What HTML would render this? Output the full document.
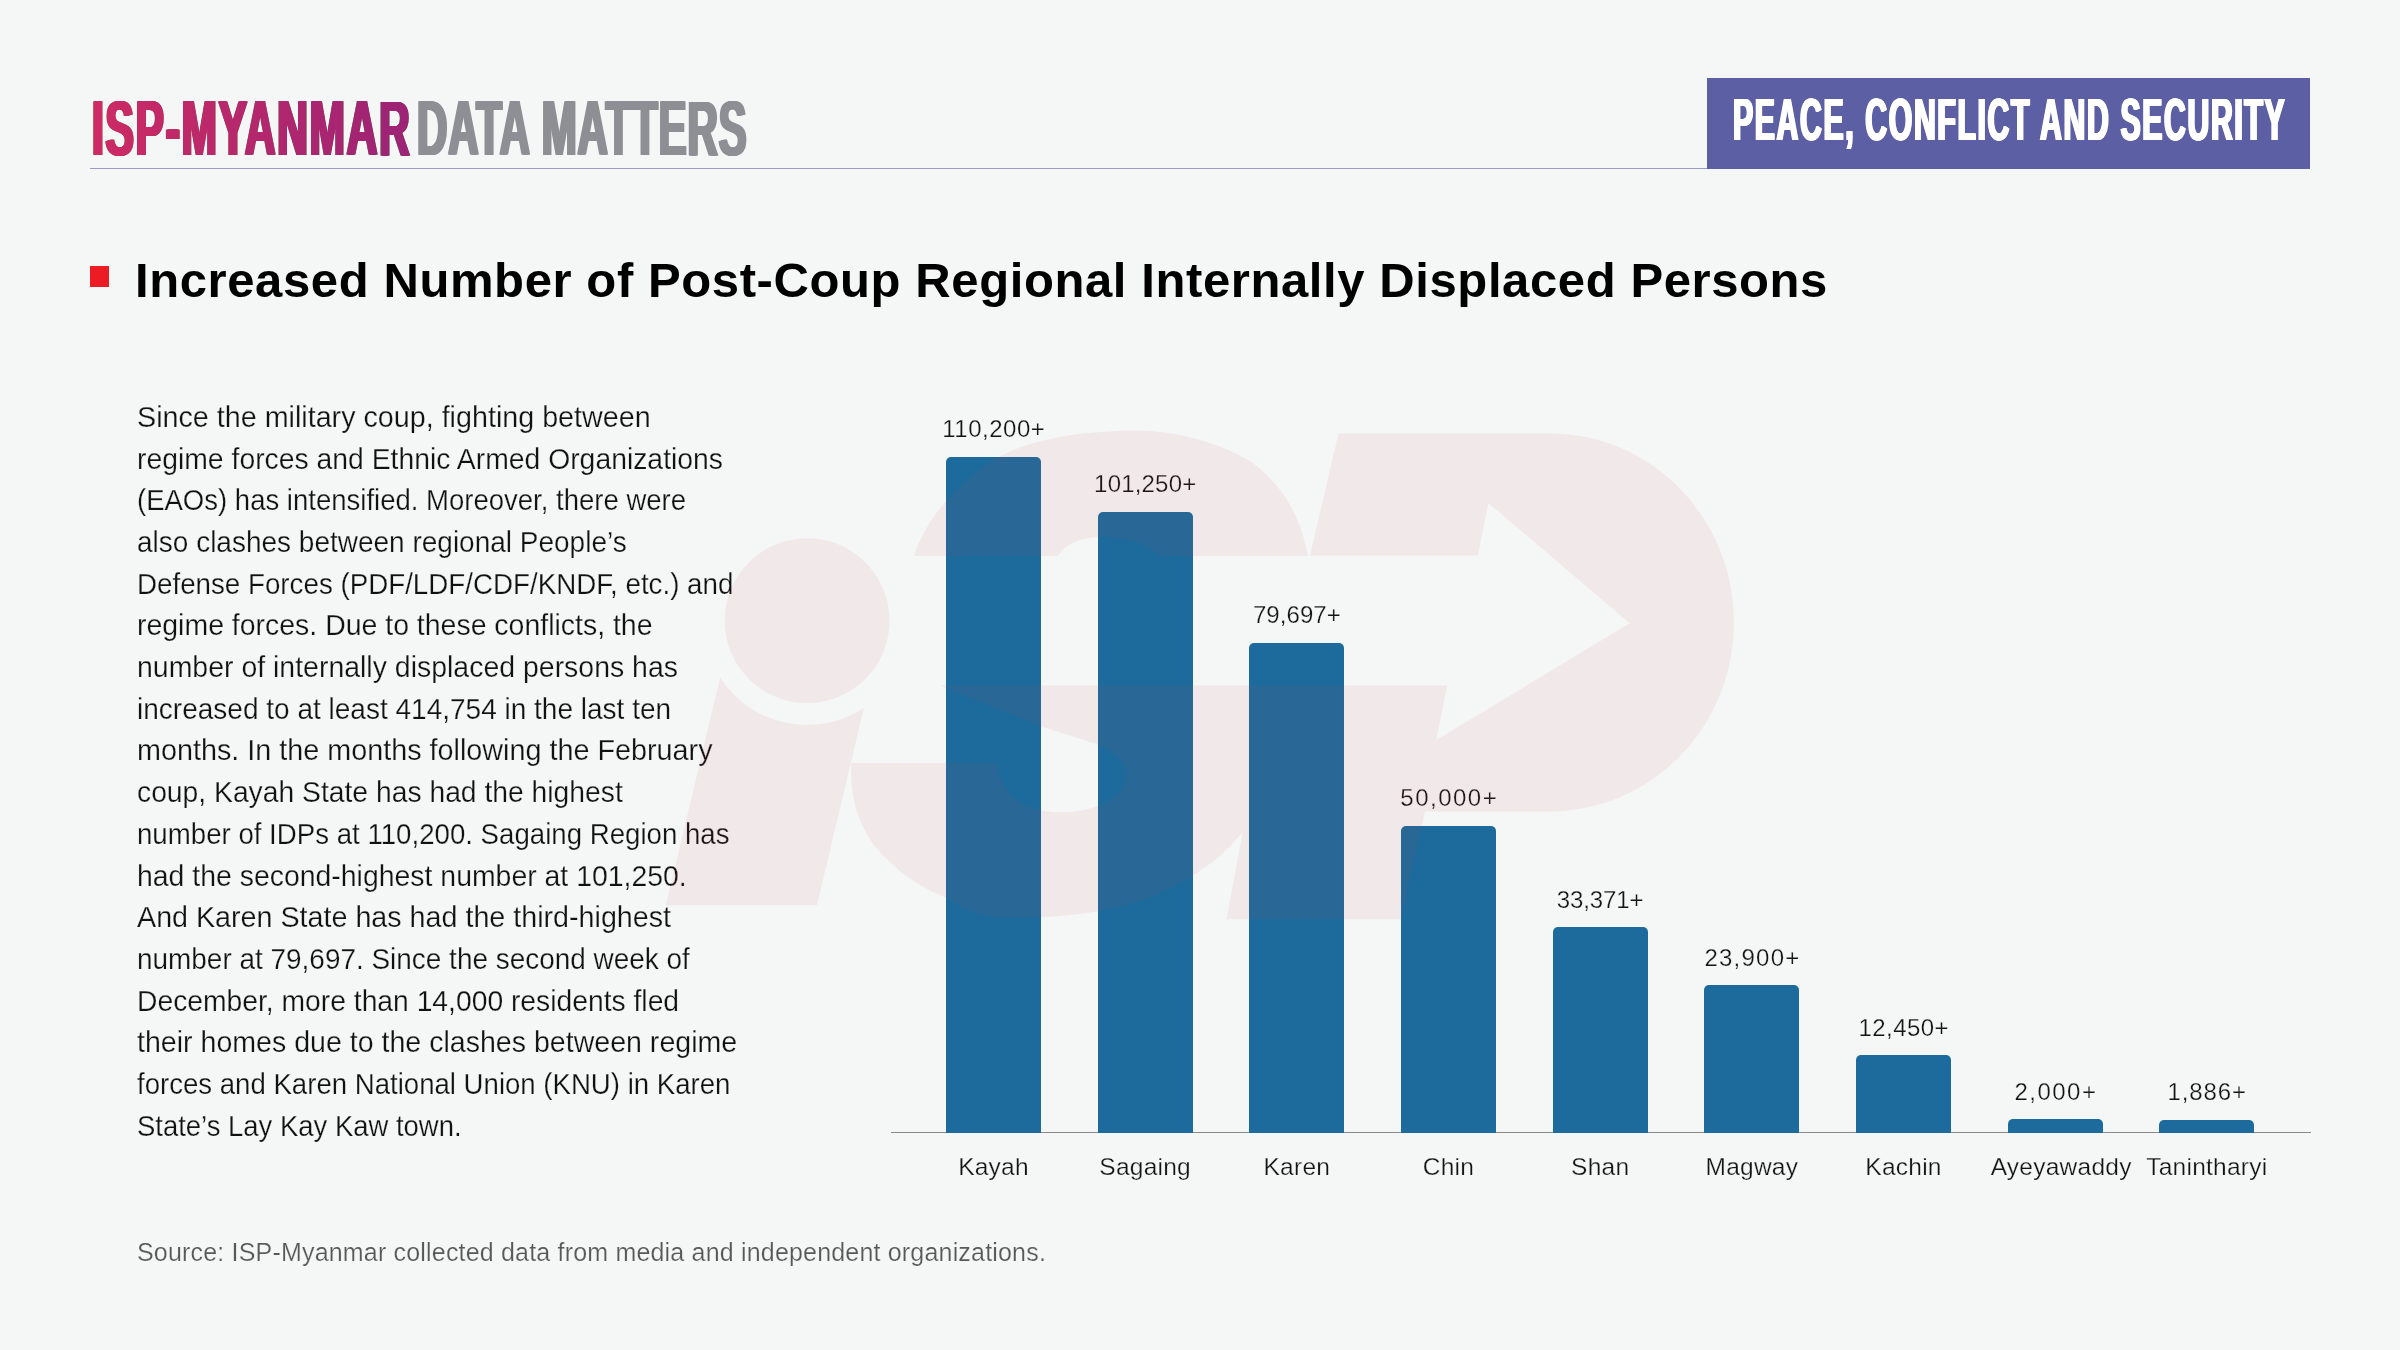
<!DOCTYPE html>
<html lang="en">
<head>
<meta charset="utf-8">
<title>ISP-Myanmar Data Matters</title>
<style>
html,body{margin:0;padding:0;}
body{width:2400px;height:1350px;background:#f5f6f6;position:relative;overflow:hidden;font-family:"Liberation Sans",sans-serif;}
.abs{position:absolute;white-space:nowrap;}
.cond{position:absolute;white-space:nowrap;font-weight:700;transform-origin:0 0;line-height:1;}
.body-line{position:absolute;left:137.3px;white-space:nowrap;font-size:30px;line-height:40px;height:40px;color:#111;transform-origin:0 50%;-webkit-text-stroke:0.25px #f5f6f6;}
.bar{position:absolute;background:#1d6b9c;border-radius:5px 5px 0 0;width:95px;}
.val{position:absolute;white-space:nowrap;font-size:24px;line-height:28px;height:28px;color:#141414;text-align:center;width:200px;-webkit-text-stroke:0.25px #f5f6f6;}
.cat{position:absolute;white-space:nowrap;font-size:24.5px;line-height:28px;height:28px;color:#141414;text-align:center;width:240px;top:1152.7px;letter-spacing:0.25px;-webkit-text-stroke:0.25px #f5f6f6;}
</style>
</head>
<body>

<div id="hdr-line" style="position:absolute;left:90px;top:167.8px;width:1617px;height:1px;background:#9a98cc;"></div>
<div id="hdr-box" style="position:absolute;left:1707px;top:78px;width:603px;height:90.5px;background:#5d5fa5;"></div>
<div id="brand" class="cond" style="left:92px;top:88.9px;font-size:78px;transform:scaleX(0.543);letter-spacing:3.33px;color:#000;text-shadow:-2.7px 0 currentColor,-1.35px 0 currentColor,1.35px 0 currentColor,2.7px 0 currentColor;">ISP-MYANMAR</div>
<div id="brand-tint" style="position:absolute;left:88px;top:92px;width:326px;height:72px;background:linear-gradient(90deg,rgb(206,43,100) 0%,rgb(155,35,118) 100%);mix-blend-mode:lighten;pointer-events:none;"></div>
<div id="brand2" class="cond" style="left:416.5px;top:88.9px;font-size:78px;transform:scaleX(0.5385);letter-spacing:1.56px;color:#8e8f94;text-shadow:-2.7px 0 currentColor,-1.35px 0 currentColor,1.35px 0 currentColor,2.7px 0 currentColor;">DATA MATTERS</div>
<div id="tag" class="cond" style="left:1733px;top:90.65px;font-size:59px;transform:scaleX(0.512);letter-spacing:3.2px;color:#fff;text-shadow:-2px 0 currentColor,-1px 0 currentColor,1px 0 currentColor,2px 0 currentColor;">PEACE, CONFLICT AND SECURITY</div>
<div id="bullet" style="position:absolute;left:90px;top:266px;width:19px;height:21px;background:#ed1c24;"></div>
<div id="title" class="abs" style="left:135px;top:250px;font-size:49px;line-height:60px;font-weight:700;color:#000;letter-spacing:0.6px;">Increased Number of Post-Coup Regional Internally Displaced Persons</div>
<div class="body-line" style="top:396.81px;transform:scaleX(0.9566);">Since the military coup, fighting between</div>
<div class="body-line" style="top:438.50px;transform:scaleX(0.9447);">regime forces and Ethnic Armed Organizations</div>
<div class="body-line" style="top:480.21px;transform:scaleX(0.9172);">(EAOs) has intensified. Moreover, there were</div>
<div class="body-line" style="top:521.90px;transform:scaleX(0.9331);">also clashes between regional People’s</div>
<div class="body-line" style="top:563.61px;transform:scaleX(0.9244);">Defense Forces (PDF/LDF/CDF/KNDF, etc.) and</div>
<div class="body-line" style="top:605.31px;transform:scaleX(0.9483);">regime forces. Due to these conflicts, the</div>
<div class="body-line" style="top:647.00px;transform:scaleX(0.9486);">number of internally displaced persons has</div>
<div class="body-line" style="top:688.71px;transform:scaleX(0.9337);">increased to at least 414,754 in the last ten</div>
<div class="body-line" style="top:730.40px;transform:scaleX(0.9588);">months. In the months following the February</div>
<div class="body-line" style="top:772.11px;transform:scaleX(0.9426);">coup, Kayah State has had the highest</div>
<div class="body-line" style="top:813.81px;transform:scaleX(0.9212);">number of IDPs at 110,200. Sagaing Region has</div>
<div class="body-line" style="top:855.51px;transform:scaleX(0.9472);">had the second-highest number at 101,250.</div>
<div class="body-line" style="top:897.21px;transform:scaleX(0.9559);">And Karen State has had the third-highest</div>
<div class="body-line" style="top:938.90px;transform:scaleX(0.9311);">number at 79,697. Since the second week of</div>
<div class="body-line" style="top:980.61px;transform:scaleX(0.9422);">December, more than 14,000 residents fled</div>
<div class="body-line" style="top:1022.31px;transform:scaleX(0.9521);">their homes due to the clashes between regime</div>
<div class="body-line" style="top:1064.01px;transform:scaleX(0.9195);">forces and Karen National Union (KNU) in Karen</div>
<div class="body-line" style="top:1105.71px;transform:scaleX(0.9153);">State’s Lay Kay Kaw town.</div>
<div id="axis" style="position:absolute;left:891px;top:1132px;width:1420px;height:1px;background:#8a8a8a;"></div>
<div class="bar" style="left:946.00px;top:457.0px;height:676.0px;"></div>
<div class="val" style="left:893.75px;top:415.38px;letter-spacing:0.51px;">110,200+</div>
<div class="cat" style="left:873.50px;">Kayah</div>
<div class="bar" style="left:1097.67px;top:511.5px;height:621.5px;"></div>
<div class="val" style="left:1045.27px;top:469.88px;letter-spacing:0.19px;">101,250+</div>
<div class="cat" style="left:1025.17px;">Sagaing</div>
<div class="bar" style="left:1249.34px;top:643.0px;height:490.0px;"></div>
<div class="val" style="left:1196.88px;top:601.38px;letter-spacing:0.07px;">79,697+</div>
<div class="cat" style="left:1176.84px;">Karen</div>
<div class="bar" style="left:1401.01px;top:825.5px;height:307.5px;"></div>
<div class="val" style="left:1349.26px;top:783.88px;letter-spacing:1.5px;">50,000+</div>
<div class="cat" style="left:1328.51px;">Chin</div>
<div class="bar" style="left:1552.68px;top:927.3px;height:205.7px;"></div>
<div class="val" style="left:1500.14px;top:885.68px;letter-spacing:-0.08px;">33,371+</div>
<div class="cat" style="left:1480.18px;">Shan</div>
<div class="bar" style="left:1704.35px;top:985.3px;height:147.7px;"></div>
<div class="val" style="left:1652.46px;top:943.68px;letter-spacing:1.23px;">23,900+</div>
<div class="cat" style="left:1631.85px;">Magway</div>
<div class="bar" style="left:1856.02px;top:1055.3px;height:77.7px;"></div>
<div class="val" style="left:1803.74px;top:1013.68px;letter-spacing:0.45px;">12,450+</div>
<div class="cat" style="left:1783.52px;">Kachin</div>
<div class="bar" style="left:2007.69px;top:1119.3px;height:13.7px;"></div>
<div class="val" style="left:1955.94px;top:1077.68px;letter-spacing:1.5px;">2,000+</div>
<div class="cat" style="left:1941.19px;">Ayeyawaddy</div>
<div class="bar" style="left:2159.36px;top:1120.0px;height:13.0px;"></div>
<div class="val" style="left:2107.31px;top:1078.38px;letter-spacing:0.9px;">1,886+</div>
<div class="cat" style="left:2086.86px;">Tanintharyi</div>
<div id="source" class="abs" style="left:137px;top:1236.8px;font-size:25px;line-height:30px;color:#585858;letter-spacing:0.185px;-webkit-text-stroke:0.2px #f5f6f6;">Source: ISP-Myanmar collected data from media and independent organizations.</div>
<svg id="watermark" width="2400" height="1350" viewBox="0 0 2400 1350" style="position:absolute;left:0;top:0;opacity:0.07;pointer-events:none;"><g fill="#be3c50"><path d="M807.1,538.3 a82.4,82.4 0 1,0 0.01,0 Z"/><path d="M720.1,677.6 A103.7,103.7 0 0,0 863.9,708.1 L817,905.2 L665.9,905.2 Z"/><path d="M914,556 C926,520 948,494 991,461 C1030,438 1080,431 1139,430.5 C1170,431 1215,440 1250,461 C1283,485 1300,515 1308,556 L1160,556 C1150,546 1130,537 1102,537 C1080,537 1064,545 1058,556 Z"/><path d="M940,685.6 L1447.3,685.6 L1436.3,740.1 L1629.7,623.2 L1488.4,503 L1477.8,555.6 L1310,555.6 L1338.5,433.4 L1550,433.4 A184,189 0 0,1 1550,811.4 L1425,811.4 L1400.8,919.3 L1226.5,919.3 L1242.8,831.8 C1228,850 1212,864 1193,875.6 C1165,893 1135,905 1100,911 C1070,916 1040,918 1005,917.8 C975,917 958,905 945,897 C915,885 900,872 888,860 C875,848 868,838 863.7,827.7 C855,812 850,790 851.4,762.9 L997.8,762.9 C997,785 1015,812 1060,812.2 C1100,812 1128,795 1126.7,773.3 C1125,760 1112,750 1097.8,744.4 L1042.2,726.7 Z"/></g></svg>
</body>
</html>
